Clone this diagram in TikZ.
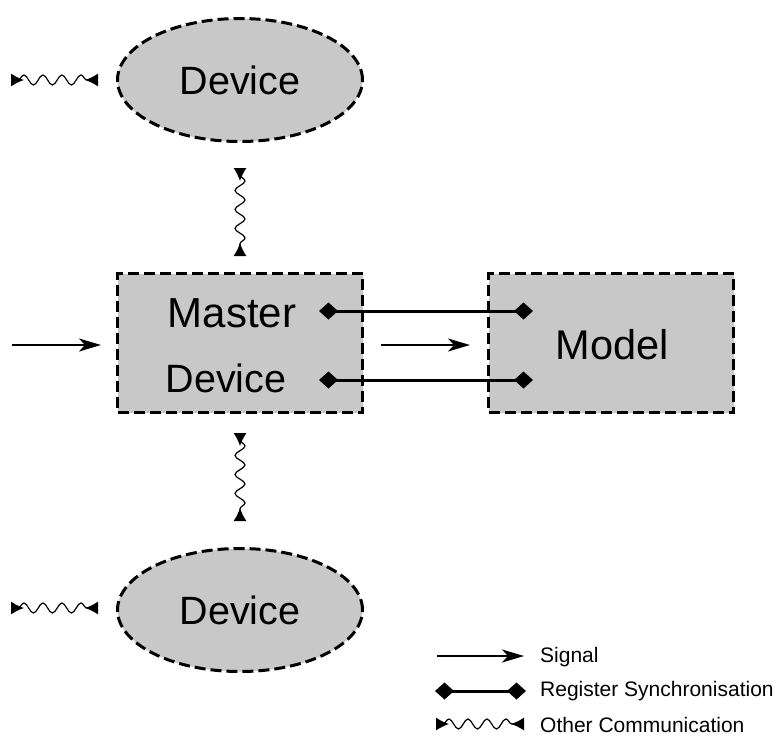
\documentclass[tikz,border=0pt]{standalone}
\usepackage{fontspec}
\setmainfont{Liberation Sans}
\usetikzlibrary{arrows.meta,shapes.geometric,decorations.pathmorphing}
\definecolor{boxgray}{RGB}{200,200,200}
\begin{document}
\begin{tikzpicture}[x=1pt,y=-1pt,
  dev/.style={ellipse,draw,fill=boxgray,line width=3pt,dash pattern=on 11pt off 5pt,minimum width=245pt,minimum height=123pt,inner sep=0pt,font=\fontsize{39.5}{44}\selectfont},
  blk/.style={rectangle,draw,fill=boxgray,line width=3pt,dash pattern=on 11pt off 5pt,minimum width=245pt,minimum height=139pt,inner sep=0pt},
  txt/.style={font=\fontsize{39.5}{44}\selectfont,inner sep=0pt},
  leg/.style={font=\fontsize{21}{24}\selectfont,anchor=west,inner sep=0pt},
  sig/.style={line width=2pt,-{Stealth[length=22pt,width=13pt,inset=6pt]}},
  syn/.style={line width=3pt,{Diamond[length=19pt,width=17pt]}-{Diamond[length=19pt,width=17pt]}},
  wav/.style={line width=1.2pt,decorate,decoration={snake,amplitude=5pt,segment length=19pt,pre length=7pt,post length=7pt},{Latex[reversed,length=13pt,width=13pt]}-{Latex[reversed,length=13pt,width=13pt]}}
]
\useasboundingbox (0,0) rectangle (778,736);
\node[dev] (d1) at (240,80) {Device};
\node[dev] (d2) at (240,610) {Device};
\node[blk] (m) at (240,343) {};
\node[blk] (mo) at (611,343) {};
\node[txt,font=\fontsize{42}{46}\selectfont] (mt1) at (232,313) {Master};
\node[txt] (mt2) at (226,378) {Device};
\node[txt,font=\fontsize{41.5}{46}\selectfont] (mot) at (612,345) {Model};
% signal arrows
\coordinate (s0) at (12,345);
\coordinate (s1) at (101,345);
\draw[sig] (s0) -- (s1);
\coordinate (s2) at (381,345);
\coordinate (s3) at (470,345);
\draw[sig] (s2) -- (s3);
% sync
\coordinate (a1) at (319,311);
\coordinate (b1) at (533,311);
\coordinate (a2) at (319,380);
\coordinate (b2) at (533,380);
\draw[syn] (a1) -- (b1);
\draw[syn] (a2) -- (b2);
% wavy
\coordinate (w1a) at (11,80);
\coordinate (w1b) at (98,80);
\draw[wav] (w1a) -- (w1b);
\coordinate (w2a) at (11,608);
\coordinate (w2b) at (98,608);
\draw[wav] (w2a) -- (w2b);
\coordinate (w3a) at (240,168);
\coordinate (w3b) at (240,256);
\draw[wav] (w3a) -- (w3b);
\coordinate (w4a) at (240,433);
\coordinate (w4b) at (240,521);
\draw[wav] (w4a) -- (w4b);
% legend
\coordinate (l1a) at (437,656);
\coordinate (l1b) at (524,656);
\draw[sig] (l1a) -- (l1b);
\node[leg] (lt1) at (540,657) {Signal};
\coordinate (l2a) at (435,691);
\coordinate (l2b) at (526,691);
\draw[syn] (l2a) -- (l2b);
\node[leg] (lt2) at (540,691) {Register Synchronisation};
\coordinate (l3a) at (436,724);
\coordinate (l3b) at (524,724);
\draw[wav] (l3a) -- (l3b);
\node[leg] (lt3) at (540,725) {Other Communication};
\end{tikzpicture}
\end{document}
